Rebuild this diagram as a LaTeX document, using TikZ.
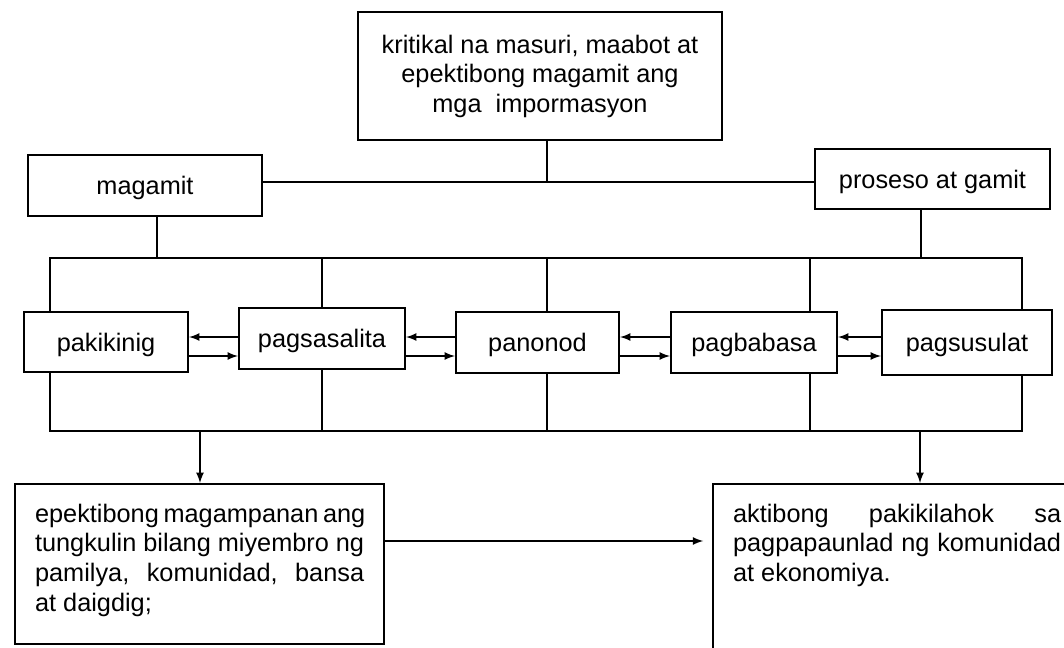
\documentclass[tikz,border=0pt]{standalone}
\usepackage{fontspec}
\setmainfont{Liberation Sans}
\begin{document}
\begin{tikzpicture}[x=0.025cm,y=-0.025cm,>=latex,
  every node/.style={font=\fontsize{18}{21}\selectfont},
  box/.style={draw,fill=white,line width=1.5pt,inner sep=0pt},
  skillbox/.style={box,text depth=0pt},
  wide/.style={draw,fill=white,line width=1.5pt,inner xsep=0.5cm,inner ysep=0.5cm},
  link/.style={line width=1.5pt}]
 \clip (0,0) rectangle (1064,647);
 %
 \coordinate (bustop) at (50,258);
 \coordinate (busbot) at (1022,431);
 \draw[link] (bustop) rectangle (busbot);
 \foreach \x in {322,547,810}
   \draw[link] (\x,258) -- (\x,431);
 %
 \node[box,minimum width=9.1cm,minimum height=3.2cm,align=center] (info) at (540,76)
   {kritikal na masuri, maabot at\\ epektibong magamit ang\\ mga~~impormasyon};
 \node[skillbox,minimum width=5.85cm,minimum height=1.525cm] (magamit) at (145,185.5) {magamit};
 \node[skillbox,minimum width=5.875cm,minimum height=1.5cm] (proseso) at (932.5,179) {proseso at gamit};
 %
 \node[skillbox,minimum width=4.1cm,minimum height=1.5cm] (pakikinig) at (106,342) {pakikinig};
 \node[skillbox,minimum width=4.15cm,minimum height=1.525cm] (pagsasalita) at (322,338.5) {pagsasalita};
 \node[skillbox,minimum width=4.075cm,minimum height=1.525cm] (panonod) at (537.5,342.5) {panonod};
 \node[skillbox,minimum width=4.15cm,minimum height=1.525cm] (pagbabasa) at (754,342.5) {pagbabasa};
 \node[skillbox,minimum width=4.25cm,minimum height=1.625cm] (pagsusulat) at (967,342.5) {pagsusulat};
 %
 \node[wide,anchor=north west] (tungkulin) at (14,483)
   {\parbox[t][3cm][t]{8.225cm}{%
     \makebox[\linewidth][s]{epektibong magampanan ang}\\
     \makebox[\linewidth][s]{tungkulin bilang miyembro ng}\\
     \makebox[\linewidth][s]{pamilya, komunidad, bansa}\\
     at daigdig;}};
 \node[wide,anchor=north west] (kaunlaran) at (712,483)
   {\parbox[t][6cm][t]{8.2cm}{%
     \makebox[\linewidth][s]{aktibong pakikilahok sa}\\
     \makebox[\linewidth][s]{pagpapaunlad ng komunidad}\\
     at ekonomiya.}};
 %
 \coordinate (hub) at (547,182);
 \draw[link] (magamit.east |- hub) -- (proseso.west |- hub);
 \draw[link] (info.south -| hub) -- (hub);
 \coordinate (lt) at (157,258);
 \coordinate (rt) at (921,258);
 \draw[link] (magamit.south -| lt) -- (lt);
 \draw[link] (proseso.south -| rt) -- (rt);
 %
 \coordinate (up) at (0,337);
 \coordinate (dn) at (0,356);
 \foreach \a/\b in {pakikinig/pagsasalita,pagsasalita/panonod,panonod/pagbabasa,pagbabasa/pagsusulat}{
   \draw[link,->] (\b.west |- up) -- (\a.east |- up);
   \draw[link,->] (\a.east |- dn) -- (\b.west |- dn);
 }
 %
 \coordinate (lb) at (200,431);
 \coordinate (rb) at (920,431);
 \draw[link,->] (lb) -- (lb |- tungkulin.north);
 \draw[link,->] (rb) -- (rb |- kaunlaran.north);
 \coordinate (mid) at (0,541);
 \draw[link,->,shorten >=0.22cm] (tungkulin.east |- mid) -- (kaunlaran.west |- mid);
\end{tikzpicture}
\end{document}
